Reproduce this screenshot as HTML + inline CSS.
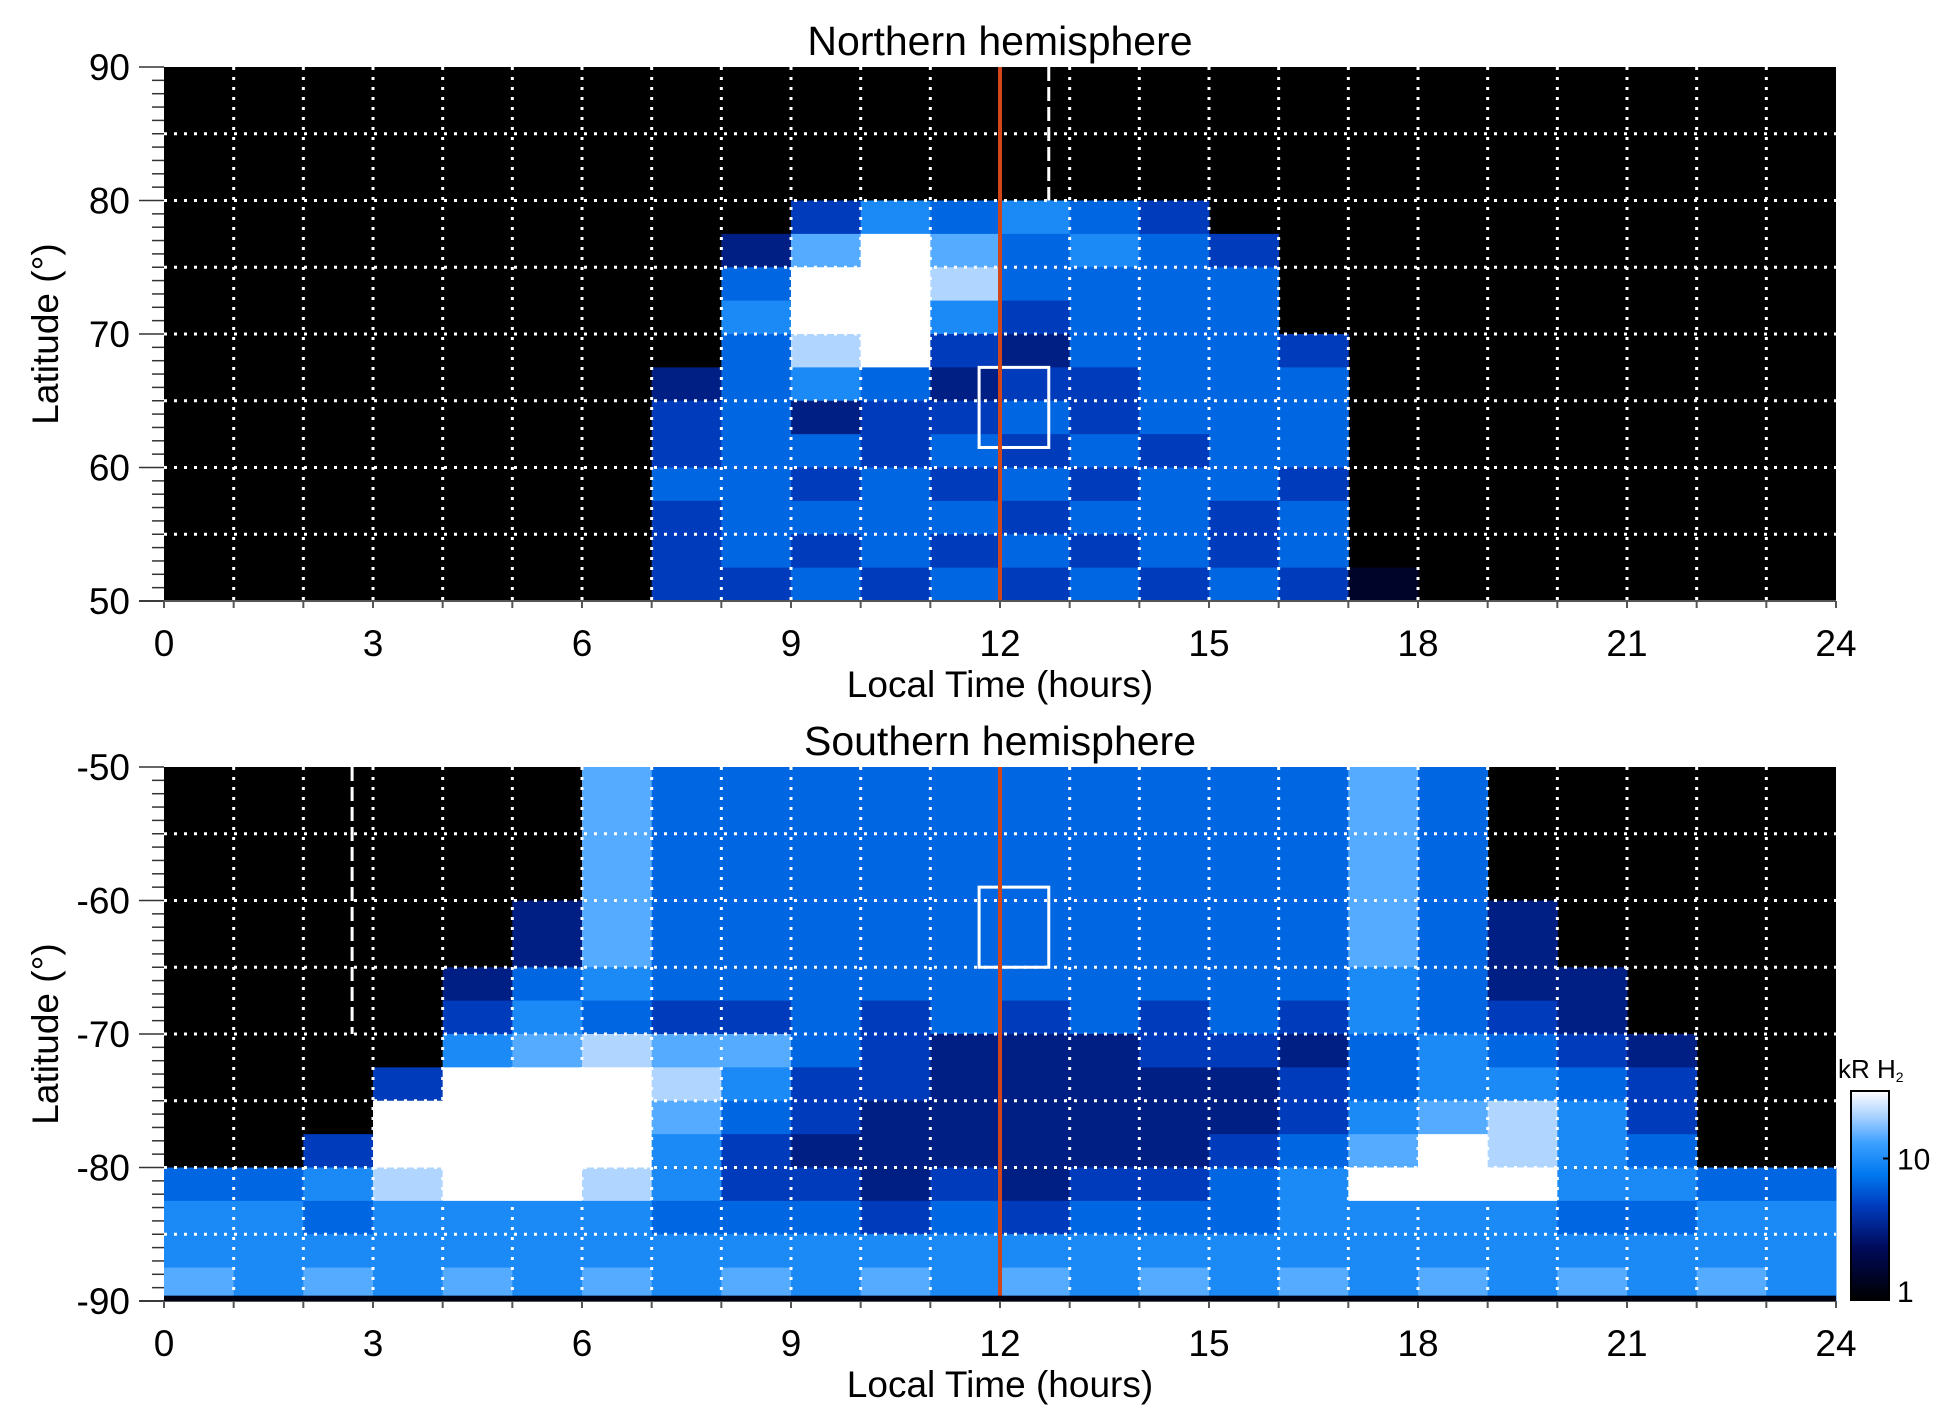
<!DOCTYPE html>
<html><head><meta charset="utf-8"><style>
body{margin:0;background:#fff;}
svg{display:block;font-family:"Liberation Sans",Arial,sans-serif;}
</style></head><body>
<svg id="fig" width="1950" height="1423" viewBox="0 0 1950 1423" xmlns="http://www.w3.org/2000/svg"></svg>
<script>
// ---- data ----
const hourTicks = [0,3,6,9,12,15,18,21,24];
const northLatTicks = [50,60,70,80,90];
const southLatTicks = [-90,-80,-70,-60,-50];
const cbTicks = [1,10];
// intensity grid rows (digit 0-9 per hour bin 0..23), top row first, 2.5 deg per row
const northGrid = [
"000000000000000000000000",
"000000000000000000000000",
"000000000000000000000000",
"000000000000000000000000",
"000000000465654000000000",
"000000003797565400000000",
"000000005998555500000000",
"000000006996455500000000",
"000000005894355540000000",
"000000035653445550000000",
"000000045344545550000000",
"000000045545454550000000",
"000000055454545540000000",
"000000045555455450000000",
"000000045454545450000000",
"000000044545454541000000"];
const southGrid = [
"000000755555555557500000",
"000000755555555557500000",
"000000755555555557500000",
"000000755555555557500000",
"000003755555555557530000",
"000003755555555557530000",
"000035655555555556533000",
"000046544545454546543000",
"000067877543334435654300",
"000499986443333345665400",
"000999975433333346786400",
"004999964333333457986500",
"556899864434344569996655",
"665666655545455566665566",
"666666666666666666666666",
"767676767676767676767676"];
const northDash = {hour:12.7, lat0:90, lat1:80};
const southDash = {hour:2.7, lat0:-50, lat1:-70};
const northBox = {h0:11.7, h1:12.7, lat0:67.5, lat1:61.5};
const southBox = {h0:11.7, h1:12.7, lat0:-59, lat1:-65};
const noonHour = 12;

// ---- layout ----
const NS="http://www.w3.org/2000/svg";
const svg=document.getElementById('fig');
const X0=164,X1=1836;
const xs=h=>X0+(X1-X0)*h/24;
function el(tag,attrs,parent){const e=document.createElementNS(NS,tag);for(const k in attrs)e.setAttribute(k,attrs[k]);(parent||svg).appendChild(e);return e;}
const stops=[[0,0,0,0],[0.25,0,10,90],[0.45,0,60,190],[0.6,0,120,240],[0.75,60,160,255],[0.88,170,210,255],[1,255,255,255]];
function cmap(t){for(let i=1;i<stops.length;i++){if(t<=stops[i][0]){const a=stops[i-1],b=stops[i];const f=(t-a[0])/(b[0]-a[0]);return `rgb(${Math.round(a[1]+f*(b[1]-a[1]))},${Math.round(a[2]+f*(b[2]-a[2]))},${Math.round(a[3]+f*(b[3]-a[3]))})`;}}return '#fff';}

function panel(name,grid,latTop,latBot,Y0,Y1,latTicks,title,dash,box){
  const ys=l=>Y0+(Y1-Y0)*(latTop-l)/(latTop-latBot);
  const g=el('g',{});
  
  
  const bg=el('rect',{x:X0,y:Y0,width:X1-X0,height:Y1-Y0,fill:'#000'},g);
  
  
  const rows=grid.length, dl=(latTop-latBot)/rows;
  const hm=el('g',{},g);
  
  
  grid.forEach((row,r)=>{
    for(let c=0;c<row.length;c++){
      const v=+row[c]; if(!v) continue;
      const la=latTop-r*dl, lb=la-dl;
      const cell=el('rect',{x:xs(c),y:ys(la),width:xs(c+1)-xs(c)+0.5,height:ys(lb)-ys(la)+0.5,fill:cmap(v/9)},hm);
      
      
    }
  });
  for(let h=1;h<24;h++){
    const l=el('line',{x1:xs(h),x2:xs(h),y1:Y0,y2:Y1,stroke:'#fff','stroke-width':3,'stroke-dasharray':'3 7'},g);
    
    
  }
  for(let la=Math.min(latTop,latBot)+5;la<Math.max(latTop,latBot);la+=5){
    const l=el('line',{x1:X0,x2:X1,y1:ys(la),y2:ys(la),stroke:'#fff','stroke-width':3,'stroke-dasharray':'3 7'},g);
    
    
  }
  const d=el('line',{x1:xs(dash.hour),x2:xs(dash.hour),y1:ys(dash.lat0),y2:ys(dash.lat1),stroke:'#fff','stroke-width':3,'stroke-dasharray':'14 6'},g);
  
  
  const b=el('rect',{x:xs(box.h0),y:ys(box.lat0),width:xs(box.h1)-xs(box.h0),height:ys(box.lat1)-ys(box.lat0),fill:'none',stroke:'#fff','stroke-width':3},g);
  
  
  const rl=el('line',{x1:xs(noonHour),x2:xs(noonHour),y1:Y0,y2:Y1,stroke:'#d2461a','stroke-width':4},g);
  
  
  el('line',{x1:X0-25,x2:X1,y1:Y1,y2:Y1,stroke:'#555','stroke-width':2},g);
  for(let la=Math.min(latTop,latBot);la<=Math.max(latTop,latBot);la++){
    const major=la%10===0;
    el('line',{x1:X0-(major?25:12),x2:X0,y1:ys(la),y2:ys(la),stroke:'#333','stroke-width':1.5},g);
  }
  for(let h=0;h<=24;h++) el('line',{x1:xs(h),x2:xs(h),y1:Y1,y2:Y1+7,stroke:'#555','stroke-width':2},g);
  latTicks.forEach(la=>{
    const t=el('text',{x:X0-34,y:ys(la)+13,'font-size':37,'text-anchor':'end'},g);t.textContent=la;
    
    
  });
  hourTicks.forEach(h=>{
    const t=el('text',{x:xs(h),y:Y1+55,'font-size':37,'text-anchor':'middle'},g);t.textContent=h;
    
    
  });
  const tt=el('text',{x:(X0+X1)/2,y:Y0-12,'font-size':41,'text-anchor':'middle'},g);tt.textContent=title;
  
  
  const xt=el('text',{x:(X0+X1)/2,y:Y1+96,'font-size':37,'text-anchor':'middle'},g);xt.textContent='Local Time (hours)';
  
  
  const cy=(Y0+Y1)/2;
  const yt=el('text',{x:58,y:cy,'font-size':37,'text-anchor':'middle',transform:`rotate(-90 58 ${cy})`},g);yt.textContent='Latitude (°)';
  
  
  return ys;
}
panel('northern',northGrid,90,50,67,601,northLatTicks,'Northern hemisphere',northDash,northBox);
const ysS=panel('southern',southGrid,-50,-90,767,1301,southLatTicks,'Southern hemisphere',southDash,southBox);
el('rect',{x:X0,y:ysS(-89.6),width:X1-X0,height:ysS(-90)-ysS(-89.6),fill:'#001'});

// colorbar
const CB={x:1851,y:1091,w:38,h:209,max:30};
const defs=el('defs',{});
const lg=el('linearGradient',{id:'cbg',x1:0,y1:1,x2:0,y2:0},defs);
stops.forEach(s=>el('stop',{offset:s[0],'stop-color':cmap(s[0])},lg));
const cb=el('rect',{x:CB.x,y:CB.y,width:CB.w,height:CB.h,fill:'url(#cbg)',stroke:'#000','stroke-width':2});


const cby=v=>CB.y+CB.h*(1-Math.log10(v)/Math.log10(CB.max));
cbTicks.forEach(v=>{
  el('line',{x1:CB.x+CB.w-6,x2:CB.x+CB.w,y1:cby(v),y2:cby(v),stroke:'#000','stroke-width':2});
  const t=el('text',{x:CB.x+CB.w+8,y:Math.min(cby(v)+11,CB.y+CB.h+2),'font-size':30},svg);t.textContent=v;
  
  
});
const cl=el('text',{x:1838,y:1078,'font-size':26});
cl.innerHTML='kR H<tspan font-size="14" dy="4">2</tspan>';


</script>
</body></html>
